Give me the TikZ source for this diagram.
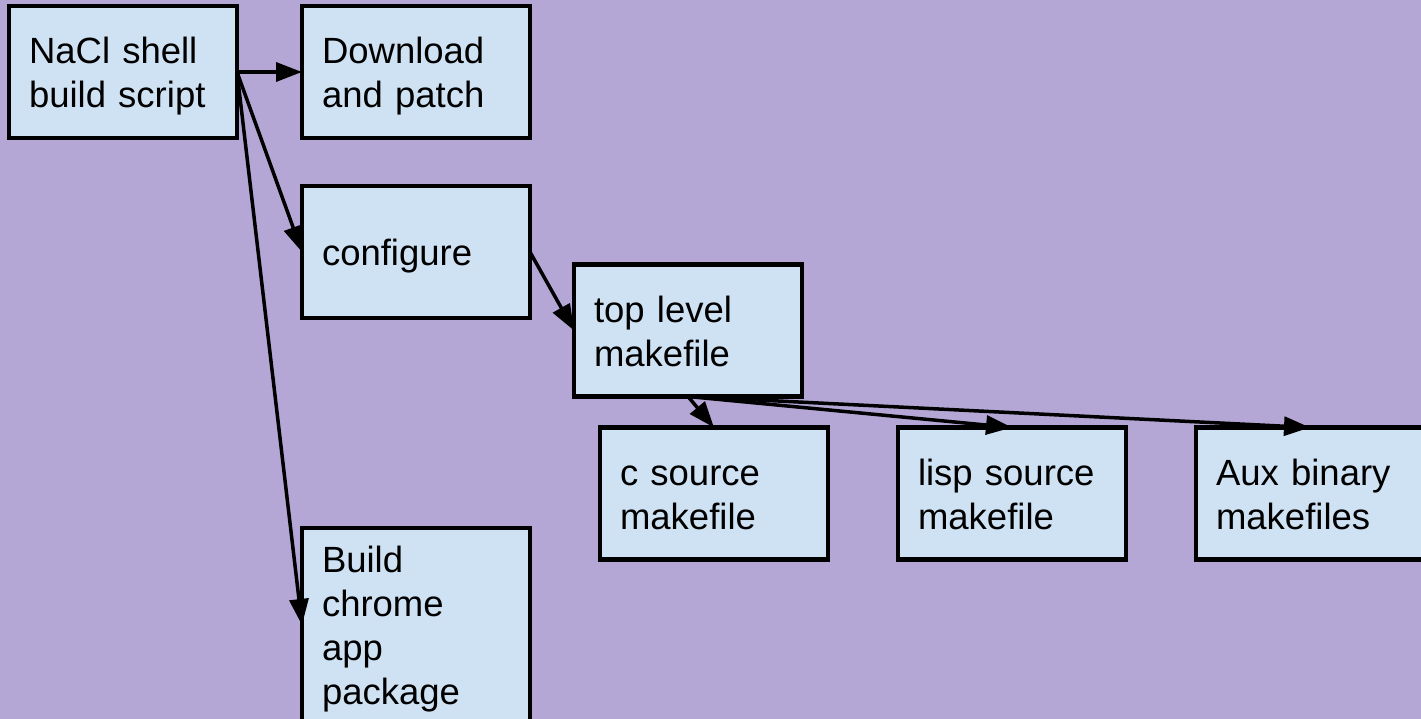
\documentclass[tikz,border=0pt]{standalone}
\usepackage{fontspec}
\setmainfont{Liberation Sans}
\usepackage{xcolor}
\usetikzlibrary{arrows.meta,positioning}
\definecolor{bgpurple}{HTML}{B4A7D6}
\definecolor{boxblue}{HTML}{CFE2F3}

\begin{document}
\begin{tikzpicture}[
        x=1pt, y=-1pt,
        font=\fontsize{36.5}{44}\selectfont,
        box/.style={draw, line width=4.5pt, fill=boxblue, align=left, text width=188pt, inner xsep=20pt, inner ysep=0pt, minimum height=132pt, outer sep=0pt, text height=27pt, text depth=44pt},
        arr/.style={-{Triangle[length=26pt,width=19pt]}, line width=3.5pt}
    ]
        \fill[bgpurple] (0,0) rectangle (1421,719);
        \useasboundingbox (0,0) rectangle (1421,719);
        \node[box] (nacl) at (123,72) {NaCl shell\\build script};
        \node[box, right=65pt of nacl] (dl) {Download\\and patch};
        \node[box, below=48pt of dl, text depth=0pt] (conf) {configure};
        \node[box, below=210pt of conf, minimum height=194pt, text depth=132pt] (build) {Build\\chrome\\app\\package};
        \node[box, right=44pt of conf, yshift=-78.5pt] (top) {top level\\makefile};
        \node[box, below=31pt of top, xshift=26pt] (csrc) {c source\\makefile};
        \node[box, right=70pt of csrc] (lisp) {lisp source\\makefile};
        \node[box, right=70pt of lisp] (aux) {Aux binary\\makefiles};
        \draw[arr] (nacl.east) -- (dl.west);
        \draw[arr] (nacl.east) -- (conf.west);
        \draw[arr] (nacl.east) -- (build.west);
        \draw[arr] (conf.east) -- (top.west);
        \draw[arr] (top.south) -- (csrc.north);
        \draw[arr] (top.south) -- (lisp.north);
        \draw[arr] (top.south) -- (aux.north);
    \end{tikzpicture}
\end{document}
